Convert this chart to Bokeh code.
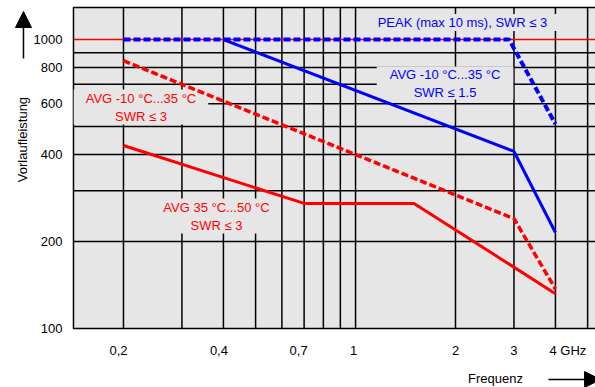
import math
from bokeh.plotting import figure
from bokeh.models import Arrow, NormalHead, Range1d, BoxAnnotation, ColumnDataSource
from bokeh.core.properties import value
from bokeh.embed import file_html
from bokeh.resources import INLINE

# ---- data ----
peak_f = [0.2, 2.9, 4.0]
peak_p = [1000, 1000, 510]

avg_blue_f = [0.4, 3.0, 4.0]
avg_blue_p = [1000, 410, 215]

avg_red_dash_f = [0.2, 3.0, 4.0]
avg_red_dash_p = [845, 240, 137]

avg_red_f = [0.2, 0.7, 1.5, 4.0]
avg_red_p = [430, 271, 271, 132]

limit_p = 1000

x_ticks = [0.2, 0.4, 0.7, 1, 2, 3, 4]
x_tick_labels = ["0,2", "0,4", "0,7", "1", "2", "3", "4 GHz"]
y_ticks = [100, 200, 400, 600, 800, 1000]
y_tick_labels = ["100", "200", "400", "600", "800", "1000"]
x_grid = [0.2, 0.3, 0.4, 0.5, 0.6, 0.7, 0.8, 0.9, 1, 2, 3, 4, 5]
y_grid = [200, 300, 400, 500, 600, 700, 800, 900]

# plot-area limits (frequency in GHz, power in W)
X_LO, X_HI = 0.1414, 6.0
Y_LO, Y_HI = 100, 1290

FONT = value("Liberation Sans")
FS = value("13px")
RED = "#ff0000"
BLUE = "#0000ff"
BG = "#e6e6e6"

# whole canvas is the frame; everything is placed through the log scales
p = figure(x_axis_type="log", y_axis_type="log",
           x_axis_location=None, y_axis_location=None,
           x_range=Range1d(0.08524, 5.281), y_range=Range1d(62.5, 1365),
           frame_width=595, frame_height=387,
           min_border_left=0, min_border_right=0, min_border_top=0, min_border_bottom=0,
           output_backend="svg", toolbar_location=None)
p.outline_line_color = None
p.background_fill_color = "white"
p.border_fill_color = "white"
p.xgrid.visible = False
p.ygrid.visible = False

# plot area
p.add_layout(BoxAnnotation(left=X_LO, right=X_HI, bottom=Y_LO, top=Y_HI,
                           fill_color=BG, fill_alpha=1.0,
                           line_color="black", line_width=1.5, line_alpha=1.0,
                           level="image"))

# grid
p.segment(x0=x_grid, x1=x_grid, y0=Y_LO, y1=Y_HI, line_color="black", line_width=1.5)
p.segment(x0=X_LO, x1=X_HI, y0=y_grid, y1=y_grid, line_color="black", line_width=1.5)

# red limit line
p.segment(x0=X_LO, x1=X_HI, y0=limit_p, y1=limit_p, line_color=RED, line_width=1.6)

# curve labels on grey boxes
def box_text(x, y, text, color, pad_x=12, pad_y=1):
    p.text(x=[x], y=[y], text=[text], text_color=color, text_font=FONT,
           text_font_size=FS, text_align="center", text_baseline="middle",
           text_line_height=1.2,
           background_fill_color=BG,
           padding=dict(left=pad_x, right=pad_x, top=pad_y, bottom=pad_y))

box_text(2.099, 1145, "PEAK (max 10 ms), SWR ≤ 3", BLUE)
box_text(1.860, 707, "AVG -10 °C...35 °C\nSWR ≤ 1.5", BLUE, pad_x=13, pad_y=0)
box_text(0.2258, 584, "AVG -10 °C...35 °C\nSWR ≤ 3", RED)
box_text(0.3812, 245, "AVG 35 °C...50 °C\nSWR ≤ 3", RED, pad_x=11)

# curves
p.line(avg_red_f, avg_red_p, line_color=RED, line_width=3)
p.line(avg_red_dash_f, avg_red_dash_p, line_color=RED, line_width=3.5, line_dash="7 3")
p.line(avg_blue_f, avg_blue_p, line_color=BLUE, line_width=3)
p.line(peak_f, peak_p, line_color=BLUE, line_width=4, line_dash="7 3")

# tick labels
ytl = ColumnDataSource(dict(x=[0.1310] * len(y_ticks), y=y_ticks, t=y_tick_labels))
p.text(x="x", y="y", text="t", source=ytl, text_font=FONT, text_font_size=FS,
       text_color="black", text_align="right", text_baseline="middle")

xtl = ColumnDataSource(dict(x=x_ticks, y=[83.9] * len(x_ticks), t=x_tick_labels,
                            dx=[-5, -4.5, -5.5, -2, 0, 0, -6],
                            al=["center"] * 6 + ["left"]))
p.text(x="x", y="y", text="t", x_offset="dx", text_align="al", source=xtl,
       text_font=FONT, text_font_size=FS, text_color="black", text_baseline="middle")

# axis titles
p.text(x=[0.0993], y=[450.8], text=["Vorlaufleistung"], angle=math.pi / 2,
       text_font=FONT, text_font_size=FS, text_color="black",
       text_align="center", text_baseline="middle")
p.text(x=[2.639], y=[67.1], text=["Frequenz"],
       text_font=FONT, text_font_size=FS, text_color="black",
       text_align="center", text_baseline="middle")

# arrows
p.add_layout(Arrow(end=NormalHead(size=16, fill_color="black", line_color="black"),
                   x_start=0.09997, y_start=859.6, x_end=0.09997, y_end=1250,
                   line_color="black", line_width=1.5))
p.add_layout(Arrow(end=NormalHead(size=16, fill_color="black", line_color="black"),
                   x_start=3.81, y_start=66.6, x_end=5.47, y_end=66.6,
                   line_color="black", line_width=1.5))

open("out.html", "w").write(file_html(p, INLINE))
